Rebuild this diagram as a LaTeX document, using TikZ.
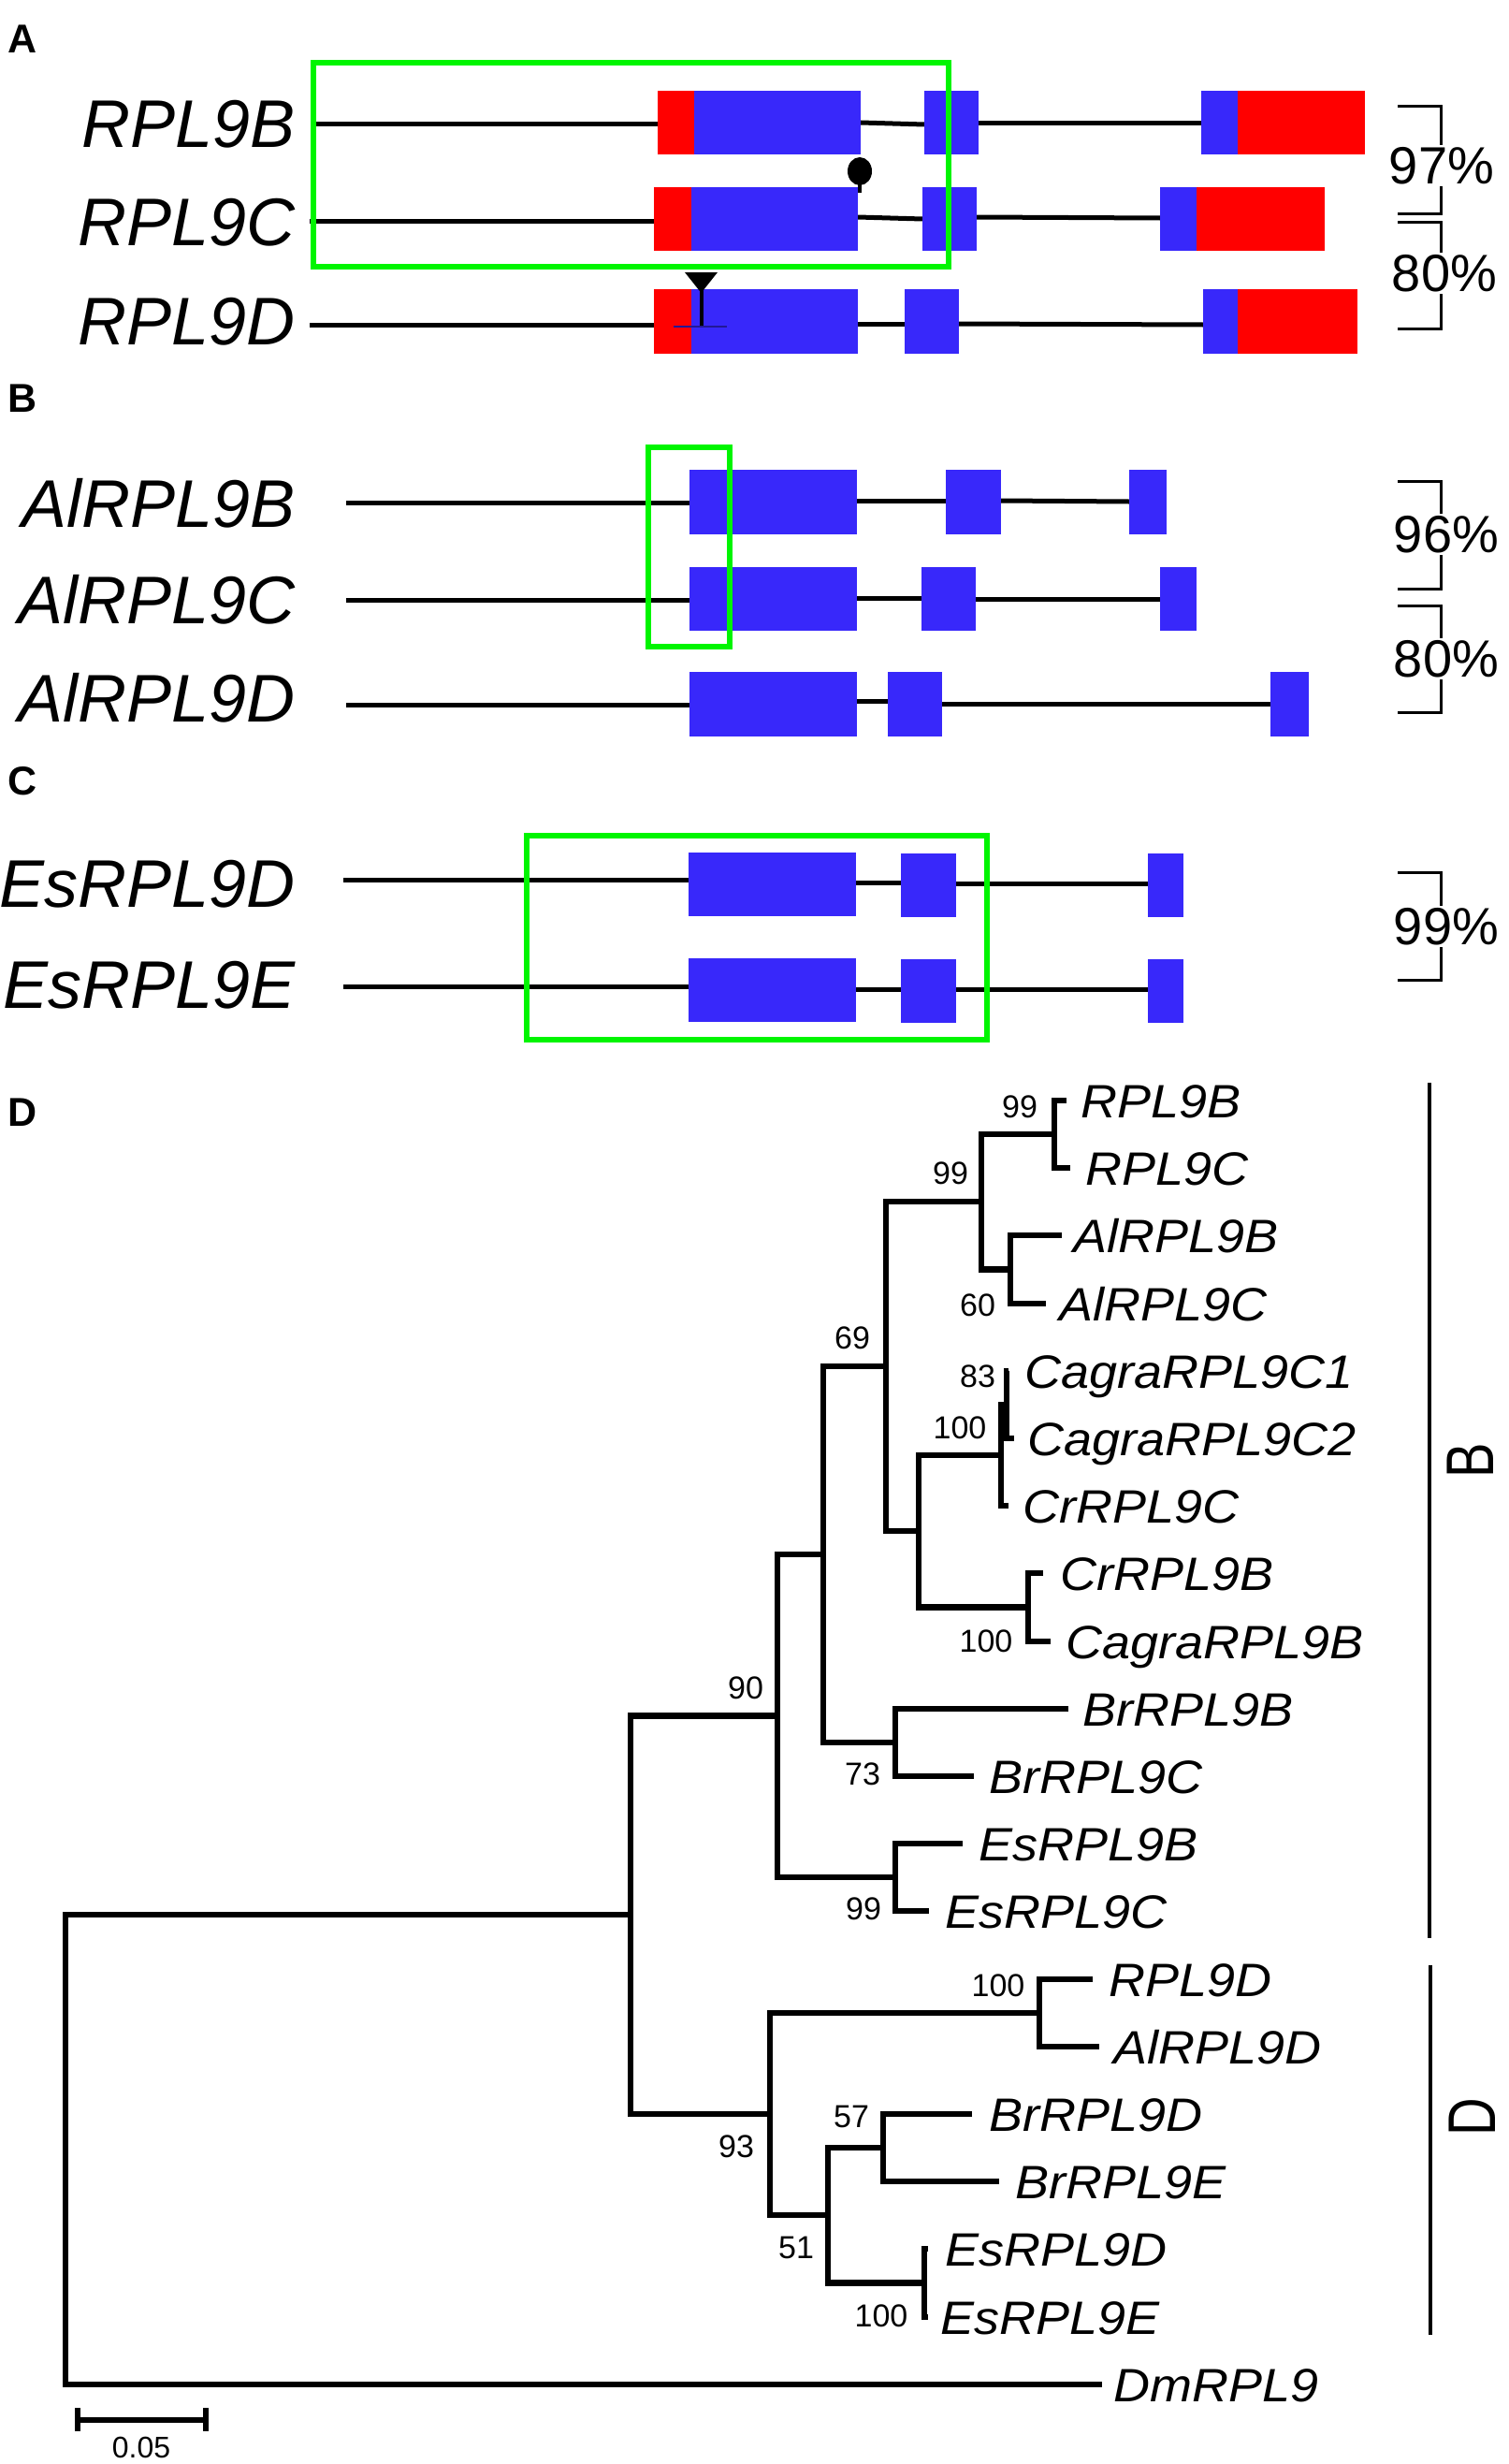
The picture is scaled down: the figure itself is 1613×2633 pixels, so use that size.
\documentclass[tikz,border=0pt]{standalone}
\usepackage{fontspec}
\setmainfont{Liberation Sans}
\newfontfamily\treefont[FakeStretch=1.08]{Liberation Sans}
\definecolor{exblue}{RGB}{56,40,250}
\definecolor{exred}{RGB}{255,0,0}
\definecolor{hlgreen}{RGB}{0,245,0}
\tikzset{
  intron/.style={line width=5pt},
  hl/.style={draw=hlgreen, line width=6pt},
  br/.style={line width=6.5pt, line join=miter},
  brk/.style={line width=3pt},
  grp/.style={line width=4.5pt},
  boot/.style={font=\fontsize{34}{34}\selectfont, inner sep=0pt},
  leaf/.style={font=\treefont\itshape\fontsize{50}{50}\selectfont, anchor=base west, inner sep=0pt},
  gname/.style={font=\itshape\fontsize{72}{72}\selectfont, anchor=base east, inner sep=0pt},
  pct/.style={font=\fontsize{56}{56}\selectfont, fill=white, inner sep=2pt},
  plabel/.style={font=\bfseries\fontsize{43}{43}\selectfont, anchor=base west, inner sep=0pt},
  grplabel/.style={font=\fontsize{72}{72}\selectfont, rotate=90, inner sep=0pt},
}
\begin{document}
\begin{tikzpicture}[x=1pt,y=-1pt]
\fill[white] (0,0) rectangle (1613,2633);
\useasboundingbox (0,0) rectangle (1613,2633);

% ---------- panel letters
\node[plabel] (pA) at (8,57) {A};
\node[plabel] (pB) at (8,440) {B};
\node[plabel] (pC) at (8,849) {C};
\node[plabel] (pD) at (8,1203) {D};

% ---------- Panel A
% RPL9B
\draw[intron] (338,133) -- (703,133);
\draw[intron] (920,131) -- (988,133);
\draw[intron] (1046,132) -- (1284,132);
\fill[exred] (703,97) rectangle (742,165);
\fill[exblue] (742,97) rectangle (920,165);
\fill[exblue] (988,97) rectangle (1046,165);
\fill[exblue] (1284,97) rectangle (1323,165);
\fill[exred] (1323,97) rectangle (1459,165);
% RPL9C
\draw[intron] (331,236) -- (699,236);
\draw[intron] (917,232) -- (986,234);
\draw[intron] (1044,232) -- (1240,233);
\fill[exred] (699,200) rectangle (739,268);
\fill[exblue] (739,200) rectangle (917,268);
\fill[exblue] (986,200) rectangle (1044,268);
\fill[exblue] (1240,200) rectangle (1279,268);
\fill[exred] (1279,200) rectangle (1416,268);
% RPL9D
\draw[intron] (331,347) -- (699,347);
\draw[intron] (917,346) -- (967,346);
\draw[intron] (1025,346) -- (1286,347);
\fill[exred] (699,309) rectangle (739,378);
\fill[exblue] (739,309) rectangle (917,378);
\fill[exblue] (967,309) rectangle (1025,378);
\fill[exblue] (1286,309) rectangle (1323,378);
\fill[exred] (1323,309) rectangle (1451,378);
% markers
\fill (919,183) ellipse [x radius=13, y radius=15];
\draw[line width=4pt] (919,195) -- (919,206);
\fill (732,291) -- (767,291) -- (749.5,313) -- cycle;
\draw[line width=4pt] (749.5,305) -- (749.5,349);
\draw[line width=1.5pt, exblue!60!black] (720,349) -- (777,349);
\draw[hl] (335,67) rectangle (1014,285);
\node[gname] (gA1) at (316,158) {RPL9B};
\node[gname] (gA2) at (316,262) {RPL9C};
\node[gname] (gA3) at (316,368) {RPL9D};
\draw[brk] (1494,114) -- (1540,114) -- (1540,228) -- (1494,228);
\draw[brk] (1494,237) -- (1540,237) -- (1540,351) -- (1494,351);
\node[pct] (pc1) at (1541,177) {97\%};
\node[pct] (pc2) at (1544,292) {80\%};

% ---------- Panel B
\draw[intron] (370,537) -- (737,537);
\draw[intron] (916,535) -- (1011,535);
\draw[intron] (1070,535) -- (1207,536);
\fill[exblue] (737,502) rectangle (916,571);
\fill[exblue] (1011,502) rectangle (1070,571);
\fill[exblue] (1207,502) rectangle (1247,571);
\draw[intron] (370,641) -- (737,641);
\draw[intron] (916,639) -- (985,639);
\draw[intron] (1043,640) -- (1240,640);
\fill[exblue] (737,606) rectangle (916,674);
\fill[exblue] (985,606) rectangle (1043,674);
\fill[exblue] (1240,606) rectangle (1279,674);
\draw[intron] (370,753) -- (737,753);
\draw[intron] (916,749) -- (949,749);
\draw[intron] (1007,752) -- (1358,752);
\fill[exblue] (737,718) rectangle (916,787);
\fill[exblue] (949,718) rectangle (1007,787);
\fill[exblue] (1358,718) rectangle (1399,787);
\draw[hl] (693,478) rectangle (780,691);
\node[gname] (gB1) at (316,563) {AlRPL9B};
\node[gname] (gB2) at (316,666) {AlRPL9C};
\node[gname] (gB3) at (316,771) {AlRPL9D};
\draw[brk] (1494,514) -- (1540,514) -- (1540,629) -- (1494,629);
\draw[brk] (1494,647) -- (1540,647) -- (1540,761) -- (1494,761);
\node[pct] (pc3) at (1546,571) {96\%};
\node[pct] (pc4) at (1546,704) {80\%};

% ---------- Panel C
\draw[intron] (367,940) -- (736,940);
\draw[intron] (915,943) -- (963,943);
\draw[intron] (1022,944) -- (1227,944);
\fill[exblue] (736,911) rectangle (915,979);
\fill[exblue] (963,912) rectangle (1022,980);
\fill[exblue] (1227,912) rectangle (1265,980);
\draw[intron] (367,1054) -- (736,1054);
\draw[intron] (915,1057) -- (963,1057);
\draw[intron] (1022,1057) -- (1227,1057);
\fill[exblue] (736,1024) rectangle (915,1092);
\fill[exblue] (963,1025) rectangle (1022,1093);
\fill[exblue] (1227,1025) rectangle (1265,1093);
\draw[hl] (563,893) rectangle (1055,1111);
\node[gname] (gC1) at (316,969) {EsRPL9D};
\node[gname] (gC2) at (316,1077) {EsRPL9E};
\draw[brk] (1494,932) -- (1540,932) -- (1540,1047) -- (1494,1047);
\node[pct] (pc5) at (1546,990) {99\%};

% ---------- Panel D: tree
% leaf ends
\coordinate (eRPL9B) at (1140,1176);
\coordinate (eRPL9C) at (1144,1248);
\coordinate (eAlB) at (1135,1320);
\coordinate (eAlC) at (1118,1393);
\coordinate (eC1) at (1078,1465);
\coordinate (eC2) at (1084,1537);
\coordinate (eCrC) at (1078,1609);
\coordinate (eCrB) at (1115,1681);
\coordinate (eCagB) at (1123,1754);
\coordinate (eBrB) at (1142,1826);
\coordinate (eBrC) at (1041,1898);
\coordinate (eEsB) at (1029,1970);
\coordinate (eEsC) at (993,2042);
\coordinate (eRPL9D) at (1168,2115);
\coordinate (eAlD) at (1175,2187);
\coordinate (eBrD) at (1039,2259);
\coordinate (eBrE) at (1068,2331);
\coordinate (eEsD) at (992,2403);
\coordinate (eEsE) at (992,2476);
\coordinate (eDm) at (1178,2548);
% internal nodes
\coordinate (n99a) at (1127,1212);
\coordinate (n60) at (1080,1356.5);
\coordinate (n99b) at (1049,1284);
\coordinate (n83) at (1076,1501);
\coordinate (n100c) at (1070,1555);
\coordinate (n100b) at (1099,1717.5);
\coordinate (nCC) at (982,1636);
\coordinate (n69) at (947,1460);
\coordinate (n73) at (957,1862);
\coordinate (nX) at (880,1661);
\coordinate (n99c) at (957,2006);
\coordinate (n90) at (831,1833.5);
\coordinate (n100d) at (1111,2151);
\coordinate (n57) at (944,2295);
\coordinate (n100e) at (988,2439.5);
\coordinate (n51) at (885,2367);
\coordinate (n93) at (823,2259);
\coordinate (nIn) at (674,2046);
\coordinate (nRoot) at (70,2297);

\draw[br] (eRPL9B) -| (n99a) |- (eRPL9C);
\draw[br] (eAlB) -| (n60) |- (eAlC);
\draw[br] (n99a) -| (n99b) |- (n60);
\draw[br] (eC1) -| (n83) |- (eC2);
\draw[br] (n83) -| (n100c) |- (eCrC);
\draw[br] (eCrB) -| (n100b) |- (eCagB);
\draw[br] (n100c) -| (nCC) |- (n100b);
\draw[br] (n99b) -| (n69) |- (nCC);
\draw[br] (eBrB) -| (n73) |- (eBrC);
\draw[br] (n69) -| (nX) |- (n73);
\draw[br] (eEsB) -| (n99c) |- (eEsC);
\draw[br] (nX) -| (n90) |- (n99c);
\draw[br] (eRPL9D) -| (n100d) |- (eAlD);
\draw[br] (eBrD) -| (n57) |- (eBrE);
\draw[br] (eEsD) -| (n100e) |- (eEsE);
\draw[br] (n57) -| (n51) |- (n100e);
\draw[br] (n100d) -| (n93) |- (n51);
\draw[br] (n90) -| (nIn) |- (n93);
\draw[br] (nIn) -| (nRoot) |- (eDm);

% leaf labels
\node[leaf] (tRPL9B) at (1155,1194) {RPL9B};
\node[leaf] (tRPL9C) at (1160,1266) {RPL9C};
\node[leaf] (tAlB) at (1147,1338) {AlRPL9B};
\node[leaf] (tAlC) at (1132,1411) {AlRPL9C};
\node[leaf] (tC1) at (1095,1483) {CagraRPL9C1};
\node[leaf] (tC2) at (1098,1555) {CagraRPL9C2};
\node[leaf] (tCrC) at (1093,1627) {CrRPL9C};
\node[leaf] (tCrB) at (1133,1699) {CrRPL9B};
\node[leaf] (tCagB) at (1139,1772) {CagraRPL9B};
\node[leaf] (tBrB) at (1157,1844) {BrRPL9B};
\node[leaf] (tBrC) at (1057,1916) {BrRPL9C};
\node[leaf] (tEsB) at (1046,1988) {EsRPL9B};
\node[leaf] (tEsC) at (1010,2060) {EsRPL9C};
\node[leaf] (tRPL9D) at (1185,2133) {RPL9D};
\node[leaf] (tAlD) at (1190,2205) {AlRPL9D};
\node[leaf] (tBrD) at (1057,2277) {BrRPL9D};
\node[leaf] (tBrE) at (1085,2349) {BrRPL9E};
\node[leaf] (tEsD) at (1010,2421) {EsRPL9D};
\node[leaf] (tEsE) at (1005,2494) {EsRPL9E};
\node[leaf] (tDm) at (1190,2566) {DmRPL9};

% bootstrap values
\node[boot] (b1) at (1090,1183) {99};
\node[boot] (b2) at (1016,1254) {99};
\node[boot] (b3) at (1045,1395) {60};
\node[boot] (b4) at (911,1430) {69};
\node[boot] (b5) at (1045,1471) {83};
\node[boot] (b6) at (1026,1526) {100};
\node[boot] (b7) at (1054,1754) {100};
\node[boot] (b8) at (797,1804) {90};
\node[boot] (b9) at (922,1896) {73};
\node[boot] (b10) at (923,2040) {99};
\node[boot] (b11) at (1067,2122) {100};
\node[boot] (b12) at (787,2294) {93};
\node[boot] (b13) at (910,2262) {57};
\node[boot] (b14) at (851,2402) {51};
\node[boot] (b15) at (942,2475) {100};

% group bars
\coordinate (gBt) at (1528,1157);
\coordinate (gBb) at (1528,2071);
\coordinate (gDt) at (1529,2100);
\coordinate (gDb) at (1529,2495);
\draw[grp] (gBt) -- (gBb);
\draw[grp] (gDt) -- (gDb);
\node[grplabel] (lB) at (1572,1561) {\scalebox{0.78}[1]{B}};
\node[grplabel] (lD) at (1574,2262) {\scalebox{0.78}[1]{D}};

% scale bar
\coordinate (s1) at (83,2586);
\coordinate (s2) at (220,2586);
\coordinate (s1t) at (83,2573);
\coordinate (s1b) at (83,2598);
\coordinate (s2t) at (220,2573);
\coordinate (s2b) at (220,2598);
\draw[line width=6.5pt] (s1) -- (s2);
\draw[line width=6.5pt] (s1t) -- (s1b);
\draw[line width=6.5pt] (s2t) -- (s2b);
\node[font=\fontsize{32}{32}\selectfont, inner sep=0pt] (sl) at (151,2615) {0.05};
\end{tikzpicture}
\end{document}
